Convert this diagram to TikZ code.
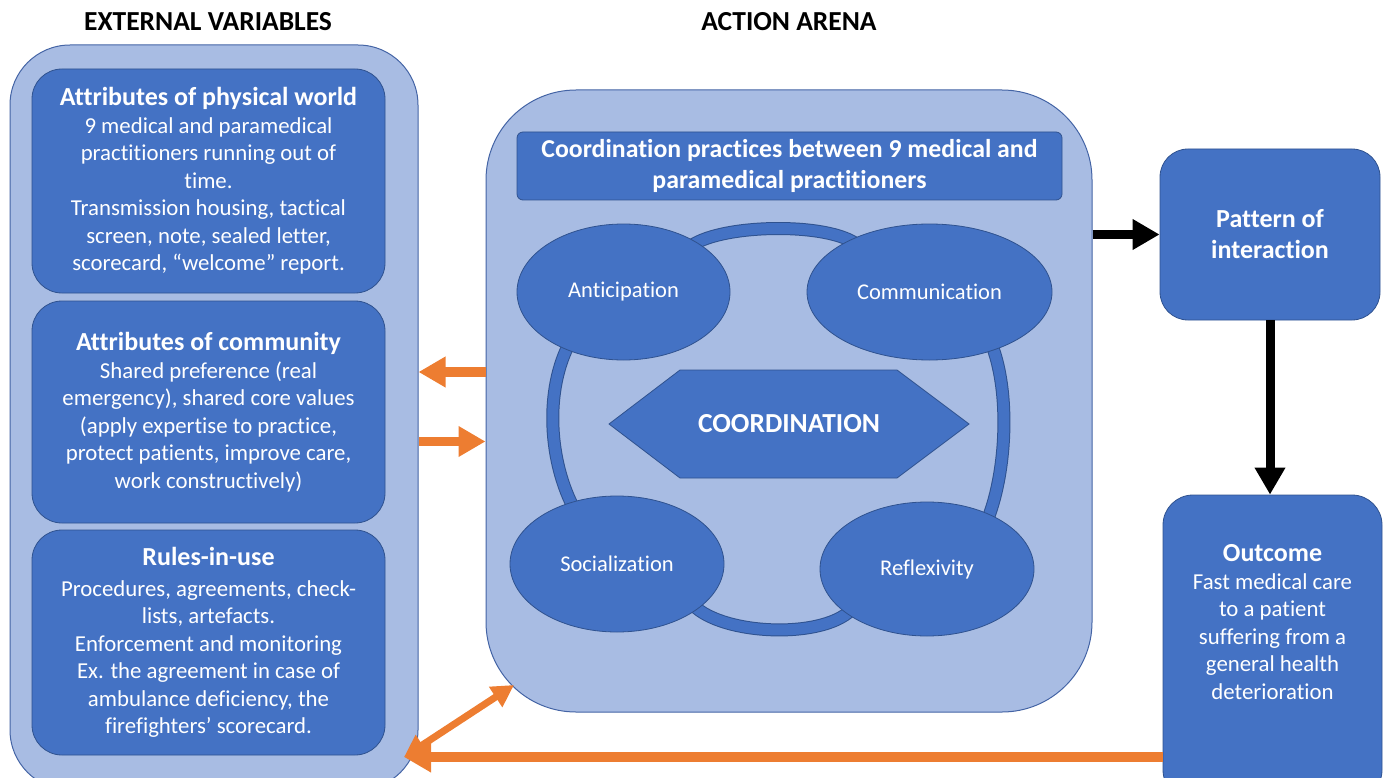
\documentclass[tikz,border=0pt]{standalone}
\usepackage{fontspec}
\setmainfont{Carlito}[Ligatures=NoCommon]
\usetikzlibrary{arrows.meta,calc,shapes.geometric}
\definecolor{lightfill}{RGB}{168,188,227}
\definecolor{lightedge}{RGB}{68,100,165}
\definecolor{midfill}{RGB}{68,114,196}
\definecolor{midedge}{RGB}{47,82,143}
\definecolor{orangec}{RGB}{237,125,49}
\pgfdeclarelayer{back}
\pgfdeclarelayer{bands}
\pgfsetlayers{back,bands,main}
\newcommand{\bodyfont}{\fontsize{22.8}{27.5}\selectfont}
\newcommand{\headfont}{\bfseries\fontsize{26}{30}\selectfont}
\tikzset{
  outerbox/.style={draw=lightedge, fill=lightfill, line width=1pt, inner sep=0pt},
  innerbox/.style={draw=midedge, fill=midfill, line width=0.8pt, inner sep=0pt,
    rounded corners=30pt, text=white, align=center, font=\bodyfont},
  ell/.style={ellipse, draw=midedge, fill=midfill, line width=0.8pt, inner sep=0pt,
    text=white, font=\fontsize{22.5}{26}\selectfont},
  band/.style={draw=midedge, double=midfill, double distance=11pt, line width=1pt},
  blackarrow/.style={line width=9pt, black, -{Triangle[length=27pt,width=29pt]}},
  orangearrow/.style={line width=9.5pt, orangec, -{Triangle[length=27pt,width=29pt]}},
  title/.style={font=\bfseries\fontsize{27.5}{30}\selectfont, text=black},
}
\begin{document}
\begin{tikzpicture}[x=1pt,y=-1pt]
\useasboundingbox (0,0) rectangle (1386,778);

% titles
\node[title] (tev) at (208,22) {EXTERNAL VARIABLES};
\node[title] (taa) at (789,22) {ACTION ARENA};

% external variables
\node[outerbox, rounded corners=60pt, minimum width=408pt, minimum height=745pt] (ext) at (214,417.5) {};
\node[innerbox, minimum width=353pt, minimum height=224pt] (phys) at (208.5,181)
  {{\headfont Attributes of physical world}\\[0pt]
   9 medical and paramedical\\ practitioners running out of\\ time.\\
   Transmission housing, tactical\\ screen, note, sealed letter,\\ scorecard, “welcome” report.};
\node[innerbox, minimum width=353pt, minimum height=222pt] (comm) at (208.5,412)
  {{\headfont Attributes of community}\\[0pt]
   Shared preference (real\\ emergency), shared core values\\ (apply expertise to practice,\\
   protect patients, improve care,\\ work constructively)};
\node[innerbox, minimum width=353pt, minimum height=225pt] (rules) at (208.5,642.5)
  {{\headfont Rules-in-use}\\[3pt]
   Procedures, agreements, check-\\ lists, artefacts.\\ Enforcement and monitoring\\
   Ex. the agreement in case of\\ ambulance deficiency, the\\ firefighters’ scorecard.};

% action arena
\begin{pgfonlayer}{back}
\node[outerbox, rounded corners=90pt, minimum width=606pt, minimum height=622pt] (arena) at (789,401) {};
\end{pgfonlayer}
\node[innerbox, rounded corners=6pt, minimum width=545pt, minimum height=68pt,
  font=\bfseries\fontsize{25.8}{31}\selectfont] (head) at (789.5,166)
  {Coordination practices between 9 medical and\\ paramedical practitioners};

\node[ell, minimum width=213pt, minimum height=136pt] (ant) at (623.5,292) {Anticipation};
\node[ell, minimum width=245pt, minimum height=136pt] (com) at (929.5,292) {Communication};
\node[ell, minimum width=214pt, minimum height=136pt] (soc) at (617,564) {Socialization};
\node[ell, minimum width=214pt, minimum height=134pt] (ref) at (927,569) {Reflexivity};

\draw[draw=midedge, fill=midfill, line width=0.8pt]
  (609,424) -- (680,370) -- (897,370) -- (969,424) -- (897,478) -- (680,478) -- cycle;
\node[text=white, font=\bfseries\fontsize{27.5}{30}\selectfont] (coord) at (789,424) {COORDINATION};

\begin{pgfonlayer}{bands}
\draw[band, shorten <=-10pt, shorten >=-10pt] (ant.35) .. controls +(20,-18) and +(-20,-18) .. (com.146);
\draw[band, shorten <=-10pt, shorten >=-10pt] (ant.225) .. controls +(-22,40) and +(-22,-40) .. (soc.127);
\draw[band, shorten <=-10pt, shorten >=-10pt] (com.-42) .. controls +(17,40) and +(17,-40) .. (ref.41);
\draw[band, shorten <=-10pt, shorten >=-10pt] (soc.-30) .. controls +(20,26) and +(-20,26) .. (ref.210);
\end{pgfonlayer}

% right column
\node[innerbox, rounded corners=28pt, minimum width=220pt, minimum height=171pt,
  font=\bfseries\fontsize{26}{31}\selectfont] (pat) at (1270,234.5) {Pattern of\\ interaction};
\node[innerbox, rounded corners=30pt, minimum width=219pt, minimum height=305pt] (out) at (1272.5,647.5) {};
\node[text=white, align=center, font=\bodyfont] (outtxt) at (1272.5,622)
  {{\headfont Outcome}\\[0pt] Fast medical care\\ to a patient\\ suffering from a\\ general health\\ deterioration};

% arrows
\draw[blackarrow] (pat.west -| arena.east) -- (pat.west);
\draw[blackarrow] (pat.south) -- (pat.south |- out.north);
\draw[orangearrow] ([yshift=29pt]arena.west) -- ([yshift=29pt]arena.west -| ext.east);
\draw[orangearrow] ([yshift=-40.5pt]arena.west -| ext.east) -- ([yshift=-40.5pt]arena.west);
\coordinate (bt) at (404,757);
\coordinate (dt) at (514,685);
\draw[orangearrow] ([yshift=-109.5pt]out.west) -- (bt);
\draw[line width=7pt, orangec, {Triangle[length=22pt,width=23pt]}-{Triangle[length=22pt,width=23pt]}] (bt) -- (dt);
\end{tikzpicture}
\end{document}
